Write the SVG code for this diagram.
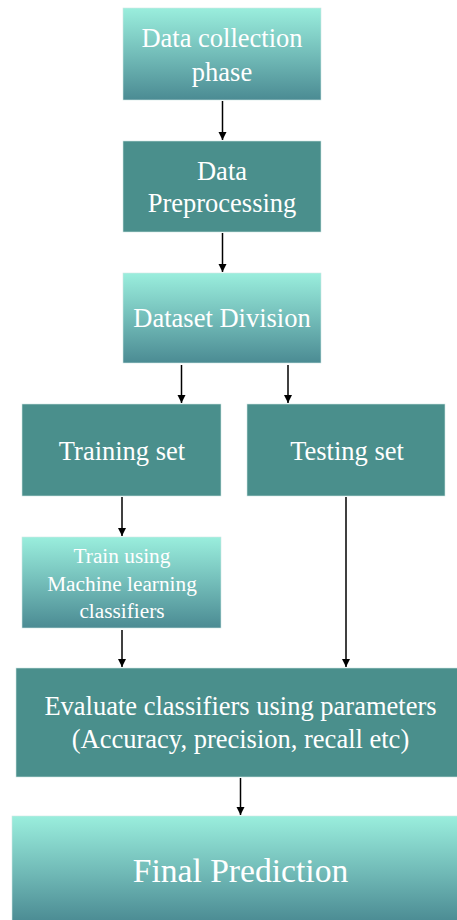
<svg xmlns="http://www.w3.org/2000/svg" width="457" height="920" viewBox="0 0 457 920" font-family="Liberation Serif, serif">
  <style>
    .solid { fill: #4a8f8c; stroke: #cfe6e4; stroke-width: 0.6; }
    .grad { fill: url(#tealGrad); stroke: #cfe6e4; stroke-width: 0.6; }
    .lbl { fill: #ffffff; text-anchor: middle; }
    .t26 { font-size: 26.5px; }
    .t21 { font-size: 21.3px; }
    .t34 { font-size: 33.6px; }
    .conn { stroke: #000000; stroke-width: 1.5; fill: none; marker-end: url(#arrow); }
  </style>
  <defs>
    <linearGradient id="tealGrad" x1="0" y1="0" x2="0" y2="1">
      <stop offset="0" stop-color="#9aeedd"/>
      <stop offset="0.5" stop-color="#73bdb9"/>
      <stop offset="1" stop-color="#4b8b93"/>
    </linearGradient>
    <marker id="arrow" viewBox="0 0 10 10" refX="10" refY="5" markerWidth="8" markerHeight="9" markerUnits="userSpaceOnUse" orient="auto">
      <path d="M0,0 L10,5 L0,10 z" fill="#000000"/>
    </marker>
  </defs>

  <!-- connectors -->
  <g id="connectors">
    <line class="conn" x1="222.5" y1="101" x2="222.5" y2="140"/>
    <line class="conn" x1="222.5" y1="233" x2="222.5" y2="272"/>
    <line class="conn" x1="181.5" y1="365" x2="181.5" y2="403"/>
    <line class="conn" x1="288" y1="365" x2="288" y2="403"/>
    <line class="conn" x1="122" y1="497" x2="122" y2="536"/>
    <line class="conn" x1="122" y1="630" x2="122" y2="667"/>
    <line class="conn" x1="346" y1="497" x2="346" y2="667"/>
    <line class="conn" x1="240.5" y1="778" x2="240.5" y2="815"/>
  </g>

  <g id="data-collection">
    <rect class="grad" x="123" y="8" width="198" height="92"/>
    <text class="lbl t26" x="222" y="47">Data collection</text>
    <text class="lbl t26" x="222" y="81">phase</text>
  </g>

  <g id="data-preprocessing">
    <rect class="solid" x="123" y="141" width="198" height="91"/>
    <text class="lbl t26" x="222" y="180">Data</text>
    <text class="lbl t26" x="222" y="212">Preprocessing</text>
  </g>

  <g id="dataset-division">
    <rect class="grad" x="123" y="273" width="198" height="90"/>
    <text class="lbl t26" x="222" y="327">Dataset Division</text>
  </g>

  <g id="training-set">
    <rect class="solid" x="22" y="404" width="199" height="92"/>
    <text class="lbl t26" x="122" y="460">Training set</text>
  </g>

  <g id="testing-set">
    <rect class="solid" x="247" y="404" width="198" height="92"/>
    <text class="lbl t26" x="347" y="460">Testing set</text>
  </g>

  <g id="train-classifiers">
    <rect class="grad" x="22" y="537" width="199" height="91"/>
    <text class="lbl t21" x="122" y="563">Train using</text>
    <text class="lbl t21" x="122" y="591">Machine learning</text>
    <text class="lbl t21" x="122" y="618">classifiers</text>
  </g>

  <g id="evaluate">
    <rect class="solid" x="16" y="668" width="442" height="109"/>
    <text class="lbl t26" x="240.5" y="715">Evaluate classifiers using parameters</text>
    <text class="lbl t26" x="240.5" y="748">(Accuracy, precision, recall etc)</text>
  </g>

  <g id="final-prediction">
    <rect class="grad" x="12" y="816" width="446" height="106"/>
    <text class="lbl t34" x="240.5" y="882">Final Prediction</text>
  </g>
</svg>
